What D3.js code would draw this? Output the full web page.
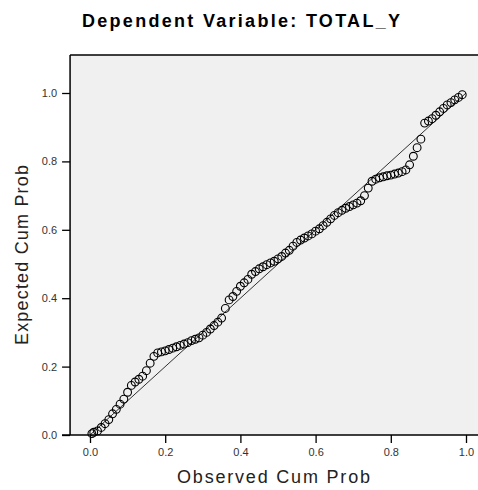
<!DOCTYPE html>
<html>
<head>
<meta charset="utf-8">
<script src="https://cdn.jsdelivr.net/npm/d3@7"></script>
<style>
  body { margin: 0; background: #fff; }
  svg text { font-family: "Liberation Sans", Arial, sans-serif; }
</style>
</head>
<body>
<svg width="478" height="490"></svg>
<script>
// P-P plot values
const OBSERVED = [0.005, 0.01, 0.02, 0.03, 0.04, 0.05, 0.06, 0.07, 0.08, 0.09,
  0.10, 0.11, 0.12, 0.13, 0.14, 0.15, 0.16, 0.17, 0.18, 0.19,
  0.20, 0.21, 0.22, 0.23, 0.24, 0.25, 0.26, 0.27, 0.28, 0.29,
  0.30, 0.31, 0.32, 0.33, 0.34, 0.35, 0.36, 0.37, 0.38, 0.39,
  0.40, 0.41, 0.42, 0.43, 0.44, 0.45, 0.46, 0.47, 0.48, 0.49,
  0.50, 0.51, 0.52, 0.53, 0.54, 0.55, 0.56, 0.57, 0.58, 0.59,
  0.60, 0.61, 0.62, 0.63, 0.64, 0.65, 0.66, 0.67, 0.68, 0.69,
  0.70, 0.71, 0.72, 0.73, 0.74, 0.75, 0.76, 0.77, 0.78, 0.79,
  0.80, 0.81, 0.82, 0.83, 0.84, 0.85, 0.86, 0.87, 0.88, 0.89,
  0.90, 0.91, 0.92, 0.93, 0.94, 0.95, 0.96, 0.97, 0.98, 0.99];
const EXPECTED = [0.004, 0.008, 0.012, 0.022, 0.033, 0.045, 0.062, 0.075, 0.090, 0.105,
  0.125, 0.145, 0.155, 0.163, 0.172, 0.188, 0.210, 0.230, 0.240, 0.243,
  0.246, 0.250, 0.254, 0.258, 0.262, 0.266, 0.270, 0.276, 0.280, 0.284,
  0.292, 0.300, 0.310, 0.320, 0.330, 0.342, 0.370, 0.395, 0.405, 0.420,
  0.435, 0.445, 0.455, 0.470, 0.478, 0.486, 0.492, 0.498, 0.503, 0.508,
  0.515, 0.522, 0.532, 0.540, 0.552, 0.563, 0.570, 0.576, 0.582, 0.588,
  0.596, 0.603, 0.612, 0.622, 0.632, 0.642, 0.650, 0.657, 0.663, 0.668,
  0.673, 0.678, 0.685, 0.700, 0.722, 0.742, 0.748, 0.752, 0.755, 0.758,
  0.760, 0.763, 0.766, 0.770, 0.775, 0.790, 0.815, 0.840, 0.865, 0.912,
  0.918, 0.925, 0.935, 0.945, 0.955, 0.965, 0.972, 0.980, 0.987, 0.995];
const TICKS = [0.0, 0.2, 0.4, 0.6, 0.8, 1.0];
const TITLE = 'Dependent Variable: TOTAL_Y';
const X_TITLE = 'Observed Cum Prob';
const Y_TITLE = 'Expected Cum Prob';

let points = OBSERVED.map((e, i) => { return {x: e, y: EXPECTED[i]}; });

const svg = d3.select('svg');
let x = d3.scaleLinear().domain([0, 1]).range([90, 466]);
let y = d3.scaleLinear().domain([0, 1]).range([435, 93]);

// plot frame
svg.append('rect')
  .attr('x', x(-0.053)).attr('y', 55)
  .attr('width', 500).attr('height', y(0) - 55)
  .attr('fill', '#f0f0f0');
svg.append('line')
  .attr('x1', x(-0.053)).attr('x2', 490).attr('y1', 55).attr('y2', 55)
  .attr('stroke', '#000').attr('stroke-width', 1.5);

// axes
let xAxis = d3.axisBottom(x).tickValues(TICKS).tickFormat(d3.format('.1f'))
  .tickSize(8).tickSizeOuter(0);
let yAxis = d3.axisLeft(y).tickValues(TICKS).tickFormat(d3.format('.1f'))
  .tickSize(8).tickSizeOuter(0);

let gx = svg.append('g').attr('transform', 'translate(0,' + y(0) + ')').call(xAxis);
gx.select('.domain').remove();
gx.append('line').attr('x1', 62).attr('x2', 490).attr('stroke', '#000').attr('stroke-width', 1.5);
let gy = svg.append('g').attr('transform', 'translate(' + x(-0.053) + ',0)').call(yAxis);
gy.select('.domain').remove();
gy.append('line').attr('y1', 55).attr('y2', y(0)).attr('stroke', '#000').attr('stroke-width', 1.5);

svg.selectAll('.tick line').attr('stroke', '#000').attr('stroke-width', 1.3);
svg.selectAll('.tick text')
  .attr('font-family', '"Liberation Sans", Arial, sans-serif')
  .attr('font-size', 11).attr('fill', '#333');
gx.selectAll('.tick text').attr('dy', '0.71em').attr('y', 13);
gy.selectAll('.tick text').attr('x', -13);

// reference diagonal
svg.append('line')
  .attr('x1', x(0)).attr('y1', y(0)).attr('x2', x(1)).attr('y2', y(1))
  .attr('stroke', '#000').attr('stroke-width', 0.8);

// points
svg.append('g')
  .selectAll('circle')
  .data(points)
  .enter()
  .append('circle')
  .attr('cx', d => x(d.x))
  .attr('cy', d => y(d.y))
  .attr('r', 3.9)
  .attr('fill', 'none')
  .attr('stroke', '#000')
  .attr('stroke-width', 1.1);

// titles
svg.append('text')
  .attr('x', 82).attr('y', 27)
  .attr('font-size', 18).attr('font-weight', 'bold')
  .attr('textLength', 318).attr('lengthAdjust', 'spacing')
  .text(TITLE);
svg.append('text')
  .attr('x', 177).attr('y', 483)
  .attr('font-size', 18).attr('fill', '#222')
  .attr('textLength', 193).attr('lengthAdjust', 'spacing')
  .text(X_TITLE);
svg.append('text')
  .attr('transform', 'translate(28,345) rotate(-90)')
  .attr('font-size', 18).attr('fill', '#222')
  .attr('textLength', 180).attr('lengthAdjust', 'spacing')
  .text(Y_TITLE);
</script>
</body>
</html>
